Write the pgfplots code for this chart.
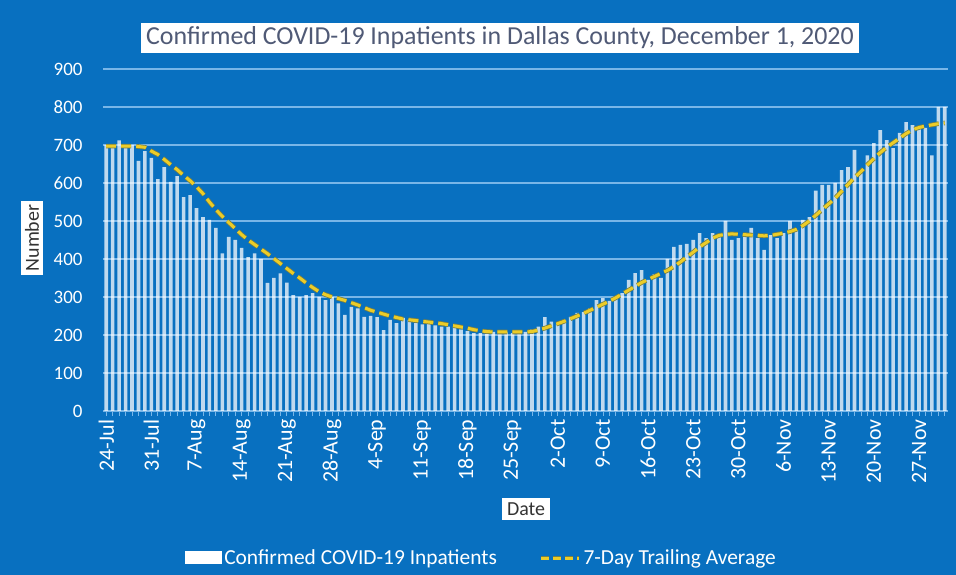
\documentclass[border=0pt]{standalone}
\usepackage{pgfplots}
\pgfplotsset{compat=1.18}
\usepackage{pgfplotstable}
\usepackage{fontspec}
\setmainfont{Carlito}
\definecolor{bgblue}{RGB}{8,112,192}
\definecolor{gridblue}{RGB}{120,182,232}
\definecolor{lineyel}{RGB}{236,204,40}
\definecolor{lineedge}{RGB}{120,128,70}
\definecolor{titlecol}{RGB}{80,90,118}

\pgfplotstableread{
d v
0 700
1 700
2 712
3 700
4 700
5 658
6 684
7 666
8 610
9 642
10 603
11 618
12 563
13 568
14 534
15 510
16 503
17 482
18 415
19 458
20 450
21 429
22 405
23 415
24 400
25 337
26 350
27 362
28 338
29 305
30 300
31 305
32 310
33 300
34 292
35 300
36 283
37 253
38 274
39 270
40 248
41 250
42 247
43 213
44 240
45 231
46 245
47 240
48 231
49 228
50 230
51 225
52 222
53 222
54 220
55 215
56 210
57 205
58 205
59 203
60 208
61 205
62 207
63 205
64 210
65 208
66 215
67 222
68 247
69 235
70 228
71 240
72 248
73 258
74 260
75 270
76 292
77 297
78 290
79 300
80 310
81 345
82 363
83 371
84 345
85 360
86 350
87 400
88 432
89 437
90 440
91 450
92 468
93 455
94 468
95 460
96 500
97 450
98 455
99 468
100 482
101 455
102 424
103 463
104 455
105 468
106 500
107 476
108 503
109 510
110 580
111 595
112 595
113 600
114 634
115 642
116 687
117 626
118 673
119 705
120 739
121 713
122 692
123 732
124 760
125 752
126 745
127 745
128 673
129 800
130 800
}\bars

\pgfplotstableread{
d v
0 697
1 697
2 697
3 697
4 697
5 696
6 694
7 684
8 675
9 662
10 648
11 635
12 620
13 606
14 590
15 572
16 550
17 530
18 512
19 496
20 480
21 464
22 450
23 438
24 426
25 414
26 401
27 388
28 375
29 362
30 350
31 337
32 325
33 314
34 306
35 300
36 296
37 291
38 285
39 279
40 272
41 265
42 260
43 255
44 250
45 246
46 242
47 240
48 238
49 236
50 234
51 232
52 230
53 227
54 224
55 221
56 218
57 214
58 211
59 209
60 208
61 208
62 208
63 208
64 208
65 208
66 209
67 213
68 218
69 224
70 230
71 236
72 243
73 250
74 257
75 265
76 273
77 281
78 289
79 298
80 308
81 318
82 328
83 338
84 346
85 354
86 362
87 370
88 380
89 392
90 405
91 418
92 432
93 443
94 455
95 462
96 465
97 466
98 465
99 464
100 463
101 462
102 461
103 462
104 465
105 468
106 472
107 478
108 488
109 500
110 515
111 530
112 545
113 560
114 578
115 596
116 614
117 630
118 648
119 664
120 680
121 694
122 706
123 718
124 730
125 740
126 746
127 750
128 753
129 756
130 758
}\avg

\begin{document}
\begin{tikzpicture}[x=1bp,y=1bp]
\fill[bgblue] (0,0) rectangle (956,575);
\useasboundingbox (0,0) rectangle (956,575);
\begin{axis}[
  at={(103bp,164bp)}, anchor=south west,
  scale only axis, width=845bp, height=342bp,
  xmin=-0.5, xmax=130.5, ymin=0, ymax=900,
  ytick={0,100,...,900},
  xtick={0,7,...,126},
  xticklabels={24-Jul,31-Jul,7-Aug,14-Aug,21-Aug,28-Aug,4-Sep,11-Sep,18-Sep,25-Sep,2-Oct,9-Oct,16-Oct,23-Oct,30-Oct,6-Nov,13-Nov,20-Nov,27-Nov},
  minor xtick={0,1,...,130},
  x tick label style={rotate=90, anchor=east, font=\fontsize{22}{22}\selectfont, text=white},
  y tick label style={font=\fontsize{19}{19}\selectfont, text=white},
  /pgf/number format/assume math mode=true,
  yticklabel style={xshift=-17bp},
  ymajorgrids, major grid style={gridblue, line width=1.6bp},
  axis x line*=bottom,
  axis y line*=left,
  y axis line style={draw=none},
  x axis line style={gridblue, line width=1.2bp, -},
  xtick align=outside,
  major tick length=5bp, minor tick length=5bp,
  tick style={gridblue, line width=0.8bp},
  ytick style={draw=none},
  clip=false,
  legend columns=2,
  legend style={at={(0.448,-0.43)}, anchor=center, draw=none, fill=none,
    text=white, font=\fontsize{21.5}{21.5}\selectfont,
    /tikz/every even column/.append style={column sep=40bp}},
]
\addplot[ybar, bar width=3.6bp, fill=white, fill opacity=0.74, draw=none,
  legend image code/.code={\fill[white, fill opacity=1] (0bp,-6bp) rectangle (37bp,7bp);}]
  table[x=d,y=v] {\bars};
\addlegendentry{Confirmed COVID-19 Inpatients}
\addplot[lineedge, line width=4.6bp, dash pattern=on 10bp off 5bp, forget plot] table[x=d,y=v] {\avg};
\addplot[lineyel, line width=3bp, dash pattern=on 10bp off 5bp,
  legend image code/.code={\draw[lineedge, line width=4.6bp, dash pattern=on 8bp off 4bp] (0bp,0bp) -- (38bp,0bp);
    \draw[lineyel, line width=3bp, dash pattern=on 8bp off 4bp] (0bp,0bp) -- (38bp,0bp);}]
  table[x=d,y=v] {\avg};
\addlegendentry{7-Day Trailing Average}
\end{axis}
\node[fill=white, text=titlecol, inner xsep=5bp, inner ysep=4bp, font=\fontsize{26}{26}\selectfont] at (500,537) {Confirmed COVID-19 Inpatients in Dallas County, December 1, 2020};
\node[fill=white, text=black!80, rotate=90, inner sep=4bp, font=\fontsize{20}{20}\selectfont] at (32,337) {Number};
\node[fill=white, text=black!80, inner sep=5bp, font=\fontsize{20}{20}\selectfont] at (526,66) {Date};
\end{tikzpicture}
\end{document}
